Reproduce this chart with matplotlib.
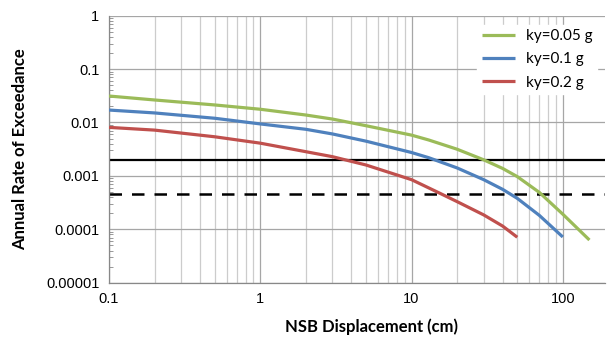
import matplotlib
matplotlib.use("Agg")
import matplotlib.pyplot as plt
from matplotlib.ticker import LogLocator, FixedLocator, FuncFormatter, NullFormatter

# datos (desplazamiento en cm, tasa anual de excedencia)
desp_005 = [0.1, 0.2, 0.5, 1, 2, 3, 5, 10, 13, 20, 30, 40, 50, 70, 100, 150]
tasa_005 = [0.0313, 0.0264, 0.0213, 0.0177, 0.0138, 0.0116, 0.0087, 0.0058, 0.0047, 0.00316,
            0.002, 0.00138, 0.00097, 0.00049, 0.000192, 0.000063]

desp_01 = [0.1, 0.2, 0.5, 1, 2, 3, 5, 10, 13, 20, 30, 40, 50, 70, 100]
tasa_01 = [0.0171, 0.0151, 0.0120, 0.0094, 0.00746, 0.0061, 0.00447, 0.00274, 0.00219, 0.00141,
           0.00085, 0.00056, 0.00038, 0.000182, 0.0000718]

desp_02 = [0.1, 0.2, 0.5, 1, 2, 3, 5, 10, 15, 20, 30, 40, 50]
tasa_02 = [0.0081, 0.0072, 0.0054, 0.0041, 0.00284, 0.00229, 0.0016, 0.00085, 0.00049, 0.00033,
           0.000186, 0.000115, 0.000071]

etiquetas = ["ky=0.05 g", "ky=0.1 g", "ky=0.2 g"]
colores = ["#9BBB59", "#4F81BD", "#C0504D"]

nivel_solido = 0.002      # linea horizontal continua
nivel_guiones = 0.00046   # linea horizontal a trazos

y_ticks = [1, 0.1, 0.01, 0.001, 0.0001, 0.00001]
x_ticks = [0.1, 1, 10, 100]

fig = plt.figure(figsize=(6.08, 3.38), dpi=100)
ax = fig.add_axes([0.1793, 0.1636, 0.8157, 0.79])

ax.plot(desp_005, tasa_005, color=colores[0], linewidth=2.3, label=etiquetas[0], solid_capstyle="butt", zorder=3)
ax.plot(desp_01, tasa_01, color=colores[1], linewidth=2.3, label=etiquetas[1], solid_capstyle="butt", zorder=3)
ax.plot(desp_02, tasa_02, color=colores[2], linewidth=2.3, label=etiquetas[2], solid_capstyle="butt", zorder=3)

ax.axhline(nivel_solido, color="black", linewidth=1.6, zorder=2)
ax.axhline(nivel_guiones, color="black", linewidth=1.8, linestyle=(0, (5, 4)), zorder=2)

ax.set_xscale("log")
ax.set_yscale("log")
ax.set_xlim(0.1, 190)
ax.set_ylim(0.00001, 1)

fmt = lambda v, p: ("%.5f" % v).rstrip("0").rstrip(".")
ax.xaxis.set_major_locator(FixedLocator(x_ticks))
ax.xaxis.set_major_formatter(FuncFormatter(fmt))
ax.xaxis.set_minor_locator(LogLocator(base=10, subs=[2, 3, 4, 5, 6, 7, 8, 9], numticks=20))
ax.xaxis.set_minor_formatter(NullFormatter())
ax.yaxis.set_major_locator(FixedLocator(y_ticks))
ax.yaxis.set_major_formatter(FuncFormatter(fmt))
ax.yaxis.set_minor_locator(LogLocator(base=10, subs=[2, 3, 4, 5, 6, 7, 8, 9], numticks=20))
ax.yaxis.set_minor_formatter(NullFormatter())

ax.grid(True, which="major", axis="both", color="#a6a6a6", linewidth=0.9, zorder=0)
ax.grid(True, which="minor", axis="x", color="#cccccc", linewidth=0.9, zorder=0)
ax.set_axisbelow(True)

for lado in ["top", "right"]:
    ax.spines[lado].set_visible(False)
for lado in ["left", "bottom"]:
    ax.spines[lado].set_color("#888888")
    ax.spines[lado].set_linewidth(0.9)

ax.tick_params(axis="both", which="major", length=0, pad=7, labelsize=10.5, labelcolor="black")
ax.tick_params(axis="x", which="minor", length=0)
ax.tick_params(axis="y", which="minor", direction="in", length=3, color="#888888")
for t in ax.get_xticklabels() + ax.get_yticklabels():
    t.set_fontfamily("Liberation Sans")

ax.set_xlabel("NSB Displacement (cm)", fontsize=12, fontweight="bold", family="Lato")
ax.set_ylabel("Annual Rate of Exceedance", fontsize=12, fontweight="bold", family="Lato")
ax.xaxis.set_label_coords(0.53, -0.135)
ax.yaxis.set_label_coords(-0.163, 0.5)

leg = ax.legend(loc="upper right", bbox_to_anchor=(1.0, 0.995), frameon=True, fancybox=False,
                edgecolor="white", framealpha=1, prop={"family": "Lato", "size": 11},
                handlelength=2.2, handletextpad=0.7, labelspacing=0.6, borderpad=0.3)

plt.savefig("out.png", dpi=100)
